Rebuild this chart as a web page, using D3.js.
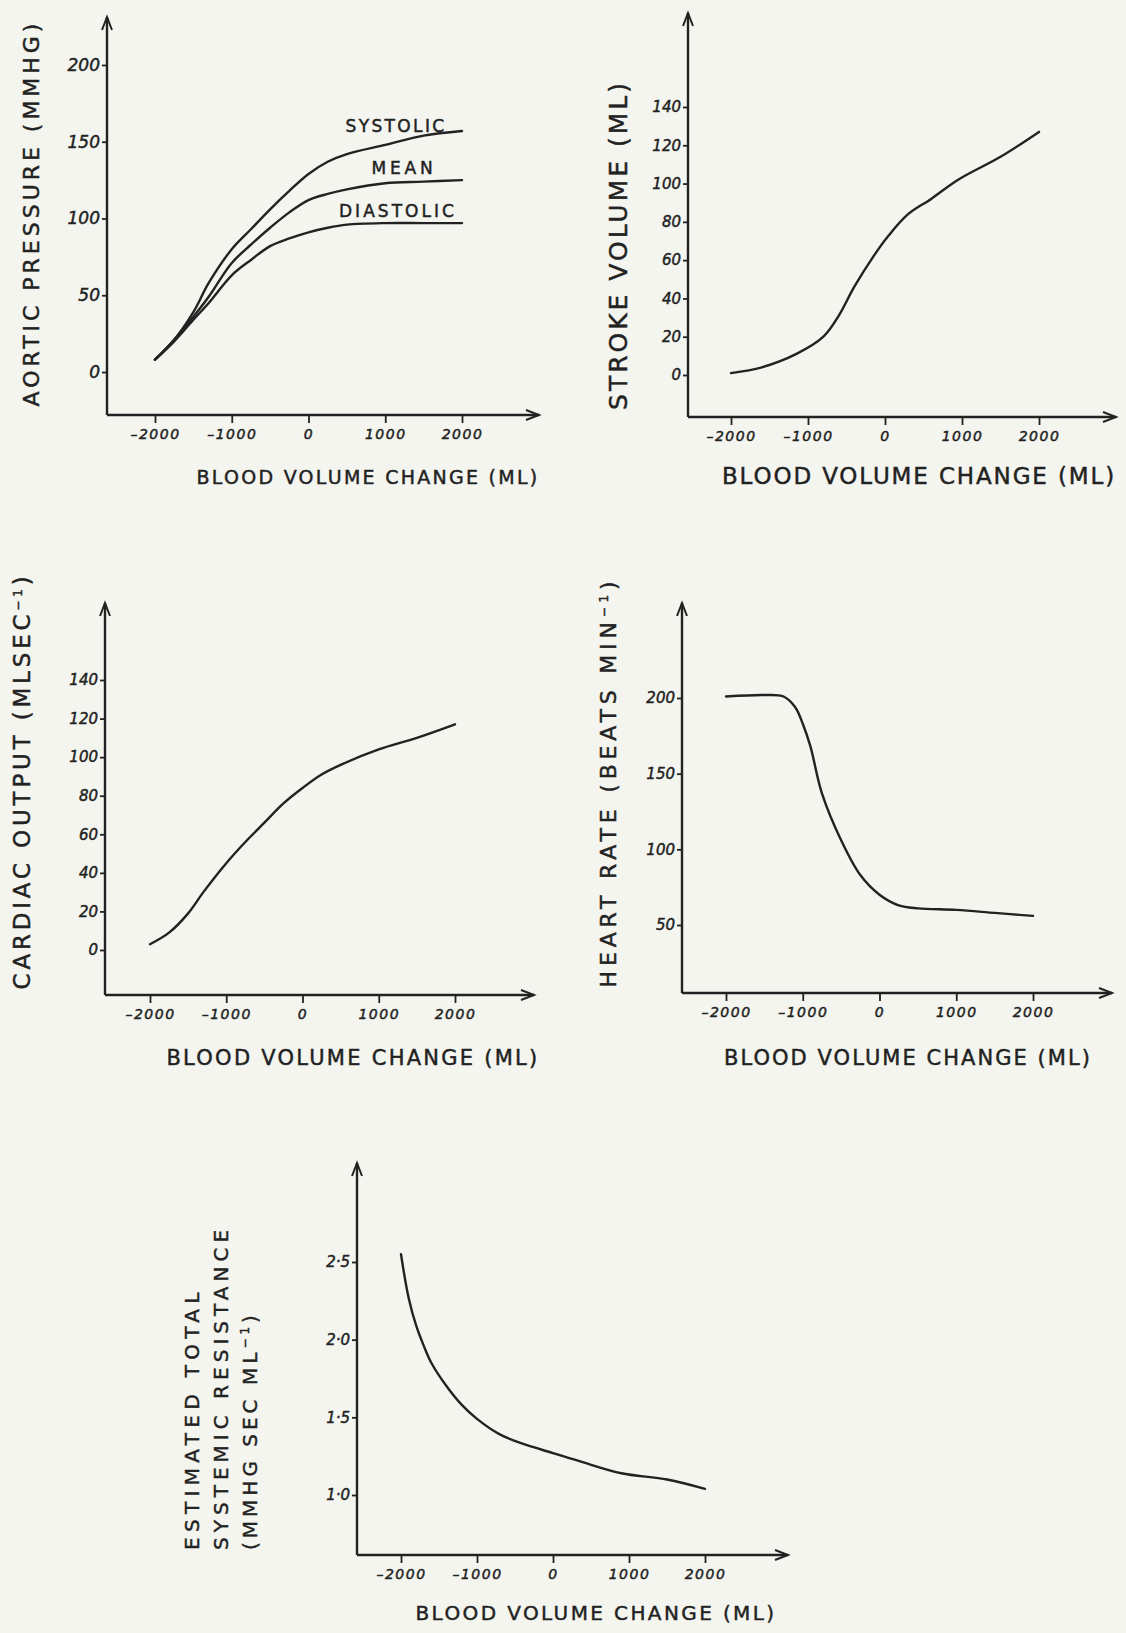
<!DOCTYPE html>
<html lang="en">
<head>
    <meta charset="UTF-8">
    <title>Blood volume change responses</title>
    <script src="https://d3js.org/d3.v7.min.js"></script>
    <style>
        body {
            margin: 0;
            padding: 0;
            background: #f4f5ef;
        }

        svg {
            display: block;
            background: #f4f5ef;
        }

        text {
            font-family: "DejaVu Sans", sans-serif;
            fill: #222;
            stroke: #222;
            stroke-width: 0.45px;
        }

        .tick-label {
            font-style: italic;
        }
    </style>
</head>
<body>
    <svg width="1126" height="1633"></svg>
    <script>
        const svg = d3.select("svg");
        const ink = "#222";

        // Shared x values (blood volume change, ml)
        const volume = [-2000, -1750, -1500, -1300, -1000, -750, -500, -250, 0, 250, 500, 1000, 1500, 2000];
        const xTicks = [-2000, -1000, 0, 1000, 2000];

        // Aortic pressure (mmHg)
        const systolic = [8, 21, 39, 58, 80, 93, 106, 118, 129, 137, 142, 148, 154, 157];
        const mean = [8, 21, 36, 49, 71, 83, 94, 104, 112, 116, 119, 123, 124, 125];
        const diastolic = [8, 20, 34, 45, 63, 73, 82, 87, 91, 94, 96, 97, 97, 97];
        const pressureTicks = [0, 50, 100, 150, 200];

        // Stroke volume (ml)
        const svVolume = [-2000, -1600, -1150, -800, -600, -400, -150, 50, 300, 600, 950, 1500, 2000];
        const strokeVolume = [1, 4, 11, 20, 31, 46, 62, 73, 84, 92, 102, 114, 127];
        const strokeTicks = [0, 20, 40, 60, 80, 100, 120, 140];

        // Cardiac output (ml/sec)
        const cardiacOutput = [3, 9, 19, 30, 45, 56, 66, 76, 84, 91, 96, 104, 110, 117];
        const outputTicks = [0, 20, 40, 60, 80, 100, 120, 140];

        // Heart rate (beats/min)
        const hrVolume = [-2000, -1500, -1250, -1100, -1000, -900, -750, -500, -250, 0, 250, 500, 1000, 1500, 2000];
        const heartRate = [201, 202, 201, 194, 183, 168, 137, 106, 83, 70, 63, 61, 60, 58, 56];
        const rateTicks = [50, 100, 150, 200];

        // Estimated total systemic resistance
        const resVolume = [-2000, -1900, -1800, -1700, -1600, -1400, -1200, -1000, -700, -400, 0, 400, 900, 1500, 2000];
        const resistance = [2.55, 2.27, 2.09, 1.96, 1.85, 1.70, 1.58, 1.49, 1.39, 1.33, 1.27, 1.21, 1.14, 1.10, 1.04];
        const resistanceTicks = [1.0, 1.5, 2.0, 2.5];

        // stretch a text element to a wanted length with letter-spacing
        function fitLength(sel, target) {
            const node = sel.node();
            const len = node.getComputedTextLength();
            const n = node.textContent.length;
            sel.attr("letter-spacing", ((target - len) / n).toFixed(2));
        }

        // Draws one hand-style panel: axes with arrows, ticks, labels and curves
        function drawPanel(p) {
            const g = svg.append("g");
            const x = d3.scaleLinear().domain([-2000, 2000]).range(p.xRange);
            const y = d3.scaleLinear().domain(p.yDomain).range(p.yRange);

            // axis lines
            g.append("line")
                .attr("x1", p.axisX).attr("y1", p.axisY)
                .attr("x2", p.axisX).attr("y2", p.arrowTop)
                .attr("stroke", ink).attr("stroke-width", 2.4);
            g.append("line")
                .attr("x1", p.axisX).attr("y1", p.axisY)
                .attr("x2", p.arrowRight).attr("y2", p.axisY)
                .attr("stroke", ink).attr("stroke-width", 2.4);

            // open arrow heads
            g.append("path")
                .attr("d", `M${p.axisX - 5},${p.arrowTop + 13}L${p.axisX},${p.arrowTop}L${p.axisX + 5},${p.arrowTop + 13}`)
                .attr("fill", "none").attr("stroke", ink).attr("stroke-width", 2);
            g.append("path")
                .attr("d", `M${p.arrowRight - 13},${p.axisY - 5}L${p.arrowRight},${p.axisY}L${p.arrowRight - 13},${p.axisY + 5}`)
                .attr("fill", "none").attr("stroke", ink).attr("stroke-width", 2);

            // y ticks
            const yAxis = g.append("g")
                .attr("transform", `translate(${p.axisX},0)`)
                .call(d3.axisLeft(y).tickValues(p.yTicks).tickSize(5).tickPadding(2)
                    .tickFormat(p.yFormat || (d => d)));
            yAxis.select(".domain").remove();
            yAxis.attr("font-family", null).attr("font-size", null);
            yAxis.selectAll(".tick line").attr("stroke", ink).attr("stroke-width", 1.8);
            yAxis.selectAll(".tick text")
                .attr("class", "tick-label")
                .style("font-size", p.yFont + "px")
                .attr("fill", ink);

            // x ticks
            const xAxis = g.append("g")
                .attr("transform", `translate(0,${p.axisY})`)
                .call(d3.axisBottom(x).tickValues(xTicks).tickSize(8).tickPadding(6)
                    .tickFormat(d => d < 0 ? "\u2013" + Math.abs(d) : d));
            xAxis.select(".domain").remove();
            xAxis.attr("font-family", null).attr("font-size", null);
            xAxis.selectAll(".tick line").attr("stroke", ink).attr("stroke-width", 1.8);
            xAxis.selectAll(".tick text")
                .attr("class", "tick-label")
                .style("font-size", "14px")
                .attr("letter-spacing", 1.5)
                .attr("fill", ink);

            // curves
            const line = d3.line()
                .x(d => x(d[0]))
                .y(d => y(d[1]))
                .curve(d3.curveCatmullRom.alpha(0.5));
            p.series.forEach(s => {
                g.append("path")
                    .datum(d3.zip(s.x, s.y))
                    .attr("d", line)
                    .attr("fill", "none")
                    .attr("stroke", ink)
                    .attr("stroke-width", 2.4)
                    .attr("stroke-linecap", "round");
            });

            // x title
            const xt = g.append("text")
                .attr("x", p.xTitle.x).attr("y", p.xTitle.y)
                .attr("text-anchor", "middle")
                .style("font-size", p.xTitle.size + "px")
                .text("BLOOD VOLUME CHANGE (ML)");
            fitLength(xt, p.xTitle.len);

            // y title (may be several rotated lines)
            p.yTitle.forEach(t => {
                const txt = g.append("text")
                    .attr("transform", `translate(${t.x},${t.y}) rotate(-90)`)
                    .attr("text-anchor", t.anchor || "middle")
                    .style("font-size", t.size + "px");
                txt.append("tspan").text(t.text);
                if (t.sup) {
                    txt.append("tspan").attr("dy", -8).style("font-size", "12px").text(t.sup);
                    txt.append("tspan").attr("dy", 8).text(")");
                }
                fitLength(txt, t.len);
            });
            return { g, x, y };
        }

        // Panel 1: aortic pressure
        const p1 = drawPanel({
            axisX: 107, axisY: 415, arrowTop: 17, arrowRight: 539,
            xRange: [155, 462], yDomain: [0, 200], yRange: [372, 65],
            yTicks: pressureTicks, yFont: 17,
            xTitle: { x: 368, y: 484, size: 19, len: 343 },
            yTitle: [{ text: "AORTIC PRESSURE (MMHG)", x: 39, y: 213, size: 22, len: 387 }],
            series: [
                { x: volume, y: systolic },
                { x: volume, y: mean },
                { x: volume, y: diastolic }
            ]
        });
        const seriesNames = [["SYSTOLIC", 396, 132, 101], ["MEAN", 404, 174, 65], ["DIASTOLIC", 398, 217, 118]];
        seriesNames.forEach(n => {
            const t = p1.g.append("text")
                .attr("x", n[1])
                .attr("y", n[2])
                .attr("text-anchor", "middle")
                .style("font-size", "17px")
                .text(n[0]);
            fitLength(t, n[3]);
        });

        // Panel 2: stroke volume
        drawPanel({
            axisX: 688, axisY: 417, arrowTop: 13, arrowRight: 1116,
            xRange: [731, 1039], yDomain: [0, 140], yRange: [375, 107],
            yTicks: strokeTicks, yFont: 15,
            xTitle: { x: 919, y: 484, size: 23, len: 394 },
            yTitle: [{ text: "STROKE VOLUME (ML)", x: 627, y: 245, size: 25, len: 330 }],
            series: [{ x: svVolume, y: strokeVolume }]
        });

        // Panel 3: cardiac output
        drawPanel({
            axisX: 105, axisY: 995, arrowTop: 603, arrowRight: 534,
            xRange: [150, 455], yDomain: [0, 140], yRange: [950, 680],
            yTicks: outputTicks, yFont: 15,
            xTitle: { x: 353, y: 1065, size: 21, len: 373 },
            yTitle: [{ text: "CARDIAC OUTPUT (MLSEC", sup: "\u22121", x: 30, y: 781, size: 23, len: 417 }],
            series: [{ x: volume, y: cardiacOutput }]
        });

        // Panel 4: heart rate
        drawPanel({
            axisX: 682, axisY: 993, arrowTop: 603, arrowRight: 1112,
            xRange: [726, 1033], yDomain: [50, 200], yRange: [925, 698],
            yTicks: rateTicks, yFont: 15,
            xTitle: { x: 908, y: 1065, size: 21, len: 368 },
            yTitle: [{ text: "HEART RATE (BEATS MIN", sup: "\u22121", x: 616, y: 782, size: 22, len: 411 }],
            series: [{ x: hrVolume, y: heartRate }]
        });

        // Panel 5: estimated total systemic resistance
        drawPanel({
            axisX: 357, axisY: 1555, arrowTop: 1163, arrowRight: 788,
            xRange: [401, 705], yDomain: [1.0, 2.5], yRange: [1495, 1262],
            yTicks: resistanceTicks, yFont: 15,
            yFormat: d => d3.format(".1f")(d).replace(".", "\u00b7"),
            xTitle: { x: 596, y: 1620, size: 20, len: 361 },
            yTitle: [
                { text: "ESTIMATED  TOTAL", x: 199, y: 1550, anchor: "start", size: 20, len: 268 },
                { text: "SYSTEMIC  RESISTANCE", x: 228, y: 1550, anchor: "start", size: 20, len: 330 },
                { text: "(MMHG SEC  ML", sup: "\u22121", x: 257, y: 1550, anchor: "start", size: 20, len: 243 }
            ],
            series: [{ x: resVolume, y: resistance }]
        });
    </script>
</body>
</html>
